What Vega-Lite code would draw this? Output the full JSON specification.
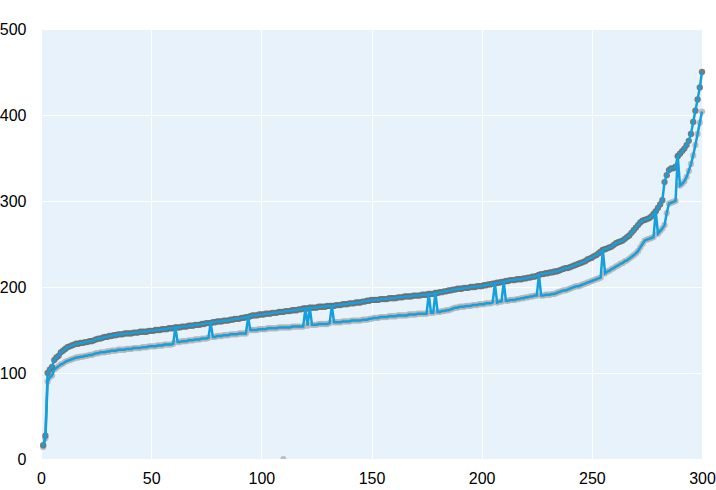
{
"$schema":"https://vega.github.io/schema/vega-lite/v6.json",
"width":661,"height":430,
"autosize":{"type":"none"},
"padding":{"left":41,"top":29,"right":14,"bottom":31},
"background":"white",
"config":{"view":{"fill":"#e8f2fb","stroke":null},
"axis":{"grid":true,"gridColor":"white","gridWidth":1,"domain":false,"ticks":false,"tickSize":0,"labelFont":"Liberation Sans","labelFontSize":16,"labelColor":"#000","title":null}},
"datasets":{
"main":[
{"i":1,"u":16,"l":14},{"i":2,"u":27,"l":24},{"i":3,"u":100,"l":90},{"i":4,"u":104,"l":95},{"i":5,"u":107,"l":97},{"i":6,"u":115,"l":104},{"i":7,"u":118,"l":106},{"i":8,"u":120,"l":108},{"i":9,"u":124,"l":110},{"i":10,"u":126,"l":111},
{"i":11,"u":128,"l":113},{"i":12,"u":130,"l":114},{"i":13,"u":131,"l":115},{"i":14,"u":132,"l":116},{"i":15,"u":133,"l":117},{"i":16,"u":134,"l":118},{"i":17,"u":134,"l":118},{"i":18,"u":135,"l":119},{"i":19,"u":135,"l":119},{"i":20,"u":136,"l":120},
{"i":21,"u":136,"l":120},{"i":22,"u":137,"l":121},{"i":23,"u":137,"l":121},{"i":24,"u":138,"l":122},{"i":25,"u":139,"l":123},{"i":26,"u":140,"l":123},{"i":27,"u":140,"l":124},{"i":28,"u":141,"l":124},{"i":29,"u":142,"l":124},{"i":30,"u":142,"l":125},
{"i":31,"u":143,"l":125},{"i":32,"u":143,"l":126},{"i":33,"u":144,"l":126},{"i":34,"u":144,"l":126},{"i":35,"u":145,"l":127},{"i":36,"u":145,"l":127},{"i":37,"u":145,"l":127},{"i":38,"u":146,"l":127},{"i":39,"u":146,"l":128},{"i":40,"u":146,"l":128},
{"i":41,"u":146,"l":128},{"i":42,"u":147,"l":129},{"i":43,"u":147,"l":129},{"i":44,"u":147,"l":129},{"i":45,"u":148,"l":129},{"i":46,"u":148,"l":130},{"i":47,"u":148,"l":130},{"i":48,"u":148,"l":130},{"i":49,"u":149,"l":131},{"i":50,"u":149,"l":131},
{"i":51,"u":149,"l":131},{"i":52,"u":150,"l":131},{"i":53,"u":150,"l":132},{"i":54,"u":150,"l":132},{"i":55,"u":151,"l":132},{"i":56,"u":151,"l":133},{"i":57,"u":151,"l":133},{"i":58,"u":152,"l":133},{"i":59,"u":152,"l":133},{"i":60,"u":152,"l":134},
{"i":61,"u":153,"l":153},{"i":62,"u":153,"l":136},{"i":63,"u":153,"l":136},{"i":64,"u":154,"l":137},{"i":65,"u":154,"l":137},{"i":66,"u":154,"l":137},{"i":67,"u":155,"l":138},{"i":68,"u":155,"l":138},{"i":69,"u":155,"l":138},{"i":70,"u":156,"l":139},
{"i":71,"u":156,"l":139},{"i":72,"u":156,"l":139},{"i":73,"u":157,"l":140},{"i":74,"u":157,"l":140},{"i":75,"u":158,"l":140},{"i":76,"u":158,"l":141},{"i":77,"u":158,"l":158},{"i":78,"u":159,"l":142},{"i":79,"u":159,"l":142},{"i":80,"u":160,"l":143},
{"i":81,"u":160,"l":143},{"i":82,"u":160,"l":143},{"i":83,"u":161,"l":144},{"i":84,"u":161,"l":144},{"i":85,"u":161,"l":144},{"i":86,"u":162,"l":145},{"i":87,"u":162,"l":145},{"i":88,"u":163,"l":145},{"i":89,"u":163,"l":145},{"i":90,"u":163,"l":146},
{"i":91,"u":164,"l":146},{"i":92,"u":164,"l":146},{"i":93,"u":165,"l":146},{"i":94,"u":165,"l":165},{"i":95,"u":166,"l":150},{"i":96,"u":167,"l":150},{"i":97,"u":167,"l":150},{"i":98,"u":167,"l":150},{"i":99,"u":168,"l":151},{"i":100,"u":168,"l":151},
{"i":101,"u":168,"l":151},{"i":102,"u":169,"l":151},{"i":103,"u":169,"l":152},{"i":104,"u":169,"l":152},{"i":105,"u":170,"l":152},{"i":106,"u":170,"l":152},{"i":107,"u":170,"l":152},{"i":108,"u":171,"l":153},{"i":109,"u":171,"l":153},{"i":110,"u":171,"l":153},
{"i":111,"u":172,"l":153},{"i":112,"u":172,"l":153},{"i":113,"u":172,"l":153},{"i":114,"u":173,"l":154},{"i":115,"u":173,"l":154},{"i":116,"u":173,"l":154},{"i":117,"u":174,"l":154},{"i":118,"u":174,"l":154},{"i":119,"u":175,"l":154},{"i":120,"u":175,"l":175},
{"i":121,"u":175,"l":155},{"i":122,"u":176,"l":176},{"i":123,"u":176,"l":156},{"i":124,"u":176,"l":156},{"i":125,"u":176,"l":156},{"i":126,"u":177,"l":157},{"i":127,"u":177,"l":157},{"i":128,"u":177,"l":157},{"i":129,"u":177,"l":157},{"i":130,"u":178,"l":157},
{"i":131,"u":178,"l":158},{"i":132,"u":178,"l":178},{"i":133,"u":178,"l":159},{"i":134,"u":179,"l":159},{"i":135,"u":179,"l":159},{"i":136,"u":179,"l":159},{"i":137,"u":180,"l":160},{"i":138,"u":180,"l":160},{"i":139,"u":180,"l":160},{"i":140,"u":181,"l":160},
{"i":141,"u":181,"l":161},{"i":142,"u":181,"l":161},{"i":143,"u":182,"l":161},{"i":144,"u":182,"l":161},{"i":145,"u":182,"l":161},{"i":146,"u":183,"l":162},{"i":147,"u":183,"l":162},{"i":148,"u":184,"l":162},{"i":149,"u":184,"l":163},{"i":150,"u":185,"l":163},
{"i":151,"u":185,"l":164},{"i":152,"u":185,"l":164},{"i":153,"u":185,"l":164},{"i":154,"u":186,"l":165},{"i":155,"u":186,"l":165},{"i":156,"u":186,"l":165},{"i":157,"u":186,"l":165},{"i":158,"u":187,"l":166},{"i":159,"u":187,"l":166},{"i":160,"u":187,"l":166},
{"i":161,"u":187,"l":166},{"i":162,"u":188,"l":167},{"i":163,"u":188,"l":167},{"i":164,"u":188,"l":167},{"i":165,"u":189,"l":167},{"i":166,"u":189,"l":167},{"i":167,"u":189,"l":168},{"i":168,"u":189,"l":168},{"i":169,"u":190,"l":168},{"i":170,"u":190,"l":168},
{"i":171,"u":190,"l":169},{"i":172,"u":190,"l":169},{"i":173,"u":191,"l":169},{"i":174,"u":191,"l":169},{"i":175,"u":191,"l":169},{"i":176,"u":192,"l":192},{"i":177,"u":192,"l":170},{"i":178,"u":192,"l":170},{"i":179,"u":193,"l":193},{"i":180,"u":193,"l":171},
{"i":181,"u":194,"l":171},{"i":182,"u":194,"l":172},{"i":183,"u":195,"l":172},{"i":184,"u":195,"l":173},{"i":185,"u":196,"l":173},{"i":186,"u":196,"l":174},{"i":187,"u":197,"l":175},{"i":188,"u":197,"l":176},{"i":189,"u":198,"l":176},{"i":190,"u":198,"l":177},
{"i":191,"u":198,"l":177},{"i":192,"u":199,"l":177},{"i":193,"u":199,"l":178},{"i":194,"u":199,"l":178},{"i":195,"u":200,"l":178},{"i":196,"u":200,"l":179},{"i":197,"u":200,"l":179},{"i":198,"u":201,"l":179},{"i":199,"u":201,"l":180},{"i":200,"u":201,"l":180},
{"i":201,"u":202,"l":180},{"i":202,"u":202,"l":181},{"i":203,"u":203,"l":181},{"i":204,"u":203,"l":181},{"i":205,"u":204,"l":182},{"i":206,"u":204,"l":204},{"i":207,"u":205,"l":182},{"i":208,"u":205,"l":183},{"i":209,"u":206,"l":183},{"i":210,"u":206,"l":206},
{"i":211,"u":207,"l":184},{"i":212,"u":207,"l":184},{"i":213,"u":208,"l":185},{"i":214,"u":208,"l":185},{"i":215,"u":208,"l":185},{"i":216,"u":209,"l":186},{"i":217,"u":209,"l":186},{"i":218,"u":209,"l":187},{"i":219,"u":210,"l":187},{"i":220,"u":210,"l":188},
{"i":221,"u":211,"l":188},{"i":222,"u":211,"l":189},{"i":223,"u":212,"l":189},{"i":224,"u":212,"l":190},{"i":225,"u":213,"l":190},{"i":226,"u":214,"l":214},{"i":227,"u":215,"l":190},{"i":228,"u":215,"l":190},{"i":229,"u":216,"l":191},{"i":230,"u":216,"l":191},
{"i":231,"u":217,"l":191},{"i":232,"u":217,"l":192},{"i":233,"u":218,"l":192},{"i":234,"u":218,"l":193},{"i":235,"u":219,"l":194},{"i":236,"u":220,"l":195},{"i":237,"u":221,"l":196},{"i":238,"u":222,"l":196},{"i":239,"u":222,"l":197},{"i":240,"u":223,"l":198},
{"i":241,"u":224,"l":199},{"i":242,"u":225,"l":200},{"i":243,"u":226,"l":201},{"i":244,"u":227,"l":201},{"i":245,"u":228,"l":202},{"i":246,"u":229,"l":203},{"i":247,"u":230,"l":204},{"i":248,"u":232,"l":205},{"i":249,"u":233,"l":206},{"i":250,"u":234,"l":207},
{"i":251,"u":236,"l":208},{"i":252,"u":237,"l":209},{"i":253,"u":239,"l":210},{"i":254,"u":241,"l":211},{"i":255,"u":243,"l":243},{"i":256,"u":244,"l":216},{"i":257,"u":245,"l":218},{"i":258,"u":246,"l":219},{"i":259,"u":247,"l":221},{"i":260,"u":249,"l":222},
{"i":261,"u":251,"l":224},{"i":262,"u":252,"l":225},{"i":263,"u":253,"l":227},{"i":264,"u":254,"l":228},{"i":265,"u":256,"l":230},{"i":266,"u":258,"l":231},{"i":267,"u":260,"l":233},{"i":268,"u":263,"l":235},{"i":269,"u":266,"l":237},{"i":270,"u":269,"l":239},
{"i":271,"u":272,"l":242},{"i":272,"u":275,"l":246},{"i":273,"u":277,"l":250},{"i":274,"u":278,"l":254},{"i":275,"u":279,"l":255},{"i":276,"u":280,"l":256},{"i":277,"u":282,"l":257},{"i":278,"u":285,"l":258},{"i":279,"u":288,"l":288},{"i":280,"u":292,"l":262},
{"i":281,"u":296,"l":265},{"i":282,"u":301,"l":268},{"i":283,"u":322,"l":272},{"i":284,"u":330,"l":286},{"i":285,"u":336,"l":297},{"i":286,"u":338,"l":298},{"i":287,"u":338,"l":299},{"i":288,"u":340,"l":300},{"i":289,"u":352,"l":352},{"i":290,"u":355,"l":318},
{"i":291,"u":358,"l":320},{"i":292,"u":361,"l":323},{"i":293,"u":365,"l":328},{"i":294,"u":370,"l":335},{"i":295,"u":378,"l":343},{"i":296,"u":392,"l":353},{"i":297,"u":405,"l":365},{"i":298,"u":418,"l":378},{"i":299,"u":432,"l":391},{"i":300,"u":450,"l":404}
],
"extra":[{"i":110,"v":0}]
},
"data":{"name":"main"},
"encoding":{
"x":{"field":"i","type":"quantitative","scale":{"domain":[0,300],"nice":false},"axis":{"values":[0,50,100,150,200,250,300],"labelPadding":11,"labelFlush":false}}
},
"layer":[
{"mark":{"type":"point","filled":true,"size":40,"color":"#b5b5b5","opacity":0.85},
 "encoding":{"y":{"field":"l","type":"quantitative","scale":{"domain":[0,500],"nice":false},"axis":{"values":[0,100,200,300,400,500],"labelPadding":15}}}},
{"mark":{"type":"point","filled":true,"size":40,"color":"#6e6e6e","opacity":0.9},
 "encoding":{"y":{"field":"u","type":"quantitative"}}},
{"data":{"name":"extra"},"mark":{"type":"point","filled":true,"size":36,"color":"#a8a8a8","clip":true},
 "encoding":{"y":{"field":"v","type":"quantitative"}}},
{"mark":{"type":"line","color":"#169fdc","strokeWidth":2.5},
 "encoding":{"y":{"field":"u","type":"quantitative"}}},
{"mark":{"type":"line","color":"#169fdc","strokeWidth":2.5},
 "encoding":{"y":{"field":"l","type":"quantitative"}}}
]
}
